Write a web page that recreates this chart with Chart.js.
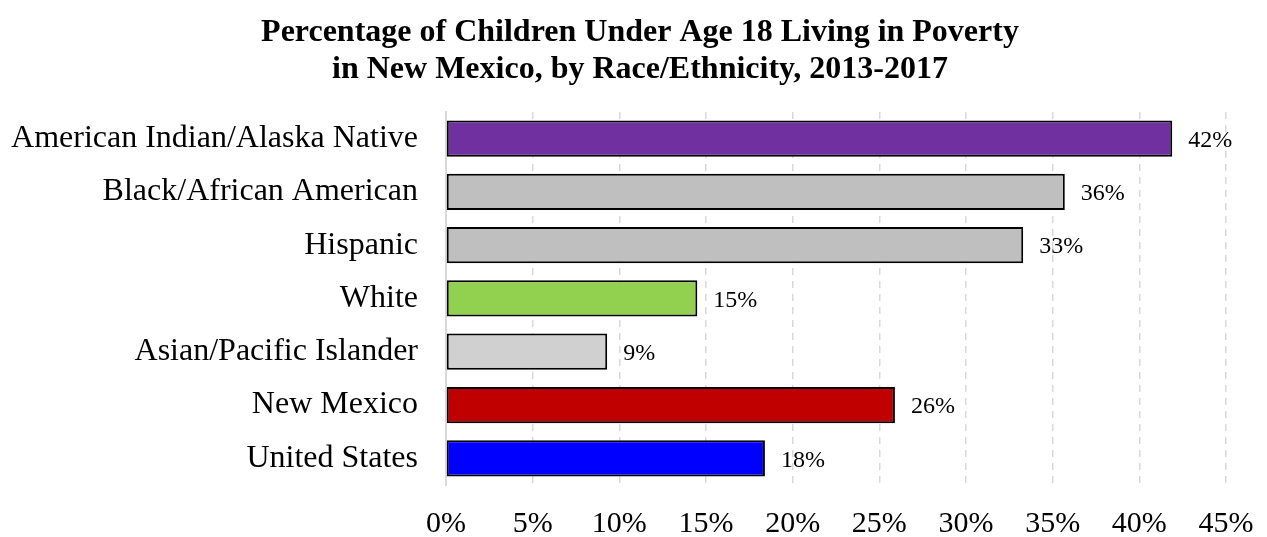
<!DOCTYPE html>
<html>
<head>
<meta charset="utf-8">
<script src="https://cdn.jsdelivr.net/npm/chart.js@4"></script>
<style>
  body { margin: 0; background: #fff; }
  #wrap { width: 1267px; height: 537px; }
</style>
</head>
<body>
<div id="wrap"><canvas id="povertyChart"></canvas></div>
<script>
// categories and values
var categorias = ['American Indian/Alaska Native', 'Black/African American', 'Hispanic', 'White',
                  'Asian/Pacific Islander', 'New Mexico', 'United States'];
var valores = [41.9, 35.7, 33.3, 14.5, 9.3, 25.9, 18.4];
var etiquetas = ['42%', '36%', '33%', '15%', '9%', '26%', '18%'];
var colores = ['#7030A0', '#BFBFBF', '#BFBFBF', '#92D050', '#D0D0D0', '#C00000', '#0000FF'];
var ticksX = [0, 5, 10, 15, 20, 25, 30, 35, 40, 45];

var serif = '"Liberation Serif", "Times New Roman", serif';

// draws the value label to the right of each bar
var etiquetasPlugin = {
    id: 'etiquetas',
    afterLayout: function(chart) {
        // the title in the original sits a little right of centre
        if (chart.titleBlock) {
            chart.titleBlock.left += 22;
            chart.titleBlock.right += 22;
        }
    },
    afterDatasetsDraw: function(chart) {
        var ctx = chart.ctx;
        var meta = chart.getDatasetMeta(0);
        ctx.save();
        ctx.font = '24px ' + serif;
        ctx.fillStyle = '#000';
        ctx.textAlign = 'left';
        ctx.textBaseline = 'middle';
        meta.data.forEach(function(bar, i) {
            ctx.fillText(etiquetas[i], bar.x + 16, bar.y + 2);
        });
        ctx.restore();
    }
};

var ctx = document.getElementById('povertyChart').getContext('2d');
var povertyChart = new Chart(ctx, {
    type: 'bar',
    data: {
        labels: categorias,
        datasets: [{
            data: valores,
            backgroundColor: colores,
            borderColor: '#000',
            borderWidth: 2,
            borderSkipped: false,
            categoryPercentage: 1,
            barPercentage: 0.68
        }]
    },
    plugins: [etiquetasPlugin],
    options: {
        indexAxis: 'y',
        responsive: true,
        maintainAspectRatio: false,
        animation: false,
        layout: { padding: { left: 10, right: 41, top: 14, bottom: 0 } },
        plugins: {
            legend: { display: false },
            tooltip: { enabled: false },
            title: {
                display: true,
                text: ['Percentage of Children Under Age 18 Living in Poverty',
                       'in New Mexico, by Race/Ethnicity, 2013-2017'],
                color: '#000',
                font: { family: serif, size: 32, weight: 'bold', lineHeight: 1.17 },
                padding: { top: 0, bottom: 23 }
            }
        },
        scales: {
            x: {
                min: 0,
                max: 45,
                afterBuildTicks: function(scale) {
                    scale.ticks = ticksX.map(function(v) { return { value: v }; });
                },
                afterFit: function(scale) {
                    scale.height = 52;
                    scale.paddingLeft = 0;
                    scale.paddingRight = 0;
                },
                ticks: {
                    color: '#000',
                    font: { family: serif, size: 30, lineHeight: 1 },
                    padding: 24,
                    maxRotation: 0,
                    callback: function(v) { return v + '%'; }
                },
                grid: { color: '#D9D9D9', lineWidth: 1.5, drawTicks: false },
                border: { display: false, dash: [7, 6] }
            },
            y: {
                afterFit: function(scale) {
                    scale.width = 436;
                    scale.paddingTop = 0;
                    scale.paddingBottom = 0;
                },
                ticks: {
                    color: '#000',
                    font: { family: serif, size: 32 },
                    padding: 28
                },
                grid: { display: false, drawTicks: false },
                border: { display: true, color: '#D9D9D9', width: 2 }
            }
        }
    }
});
</script>
</body>
</html>
